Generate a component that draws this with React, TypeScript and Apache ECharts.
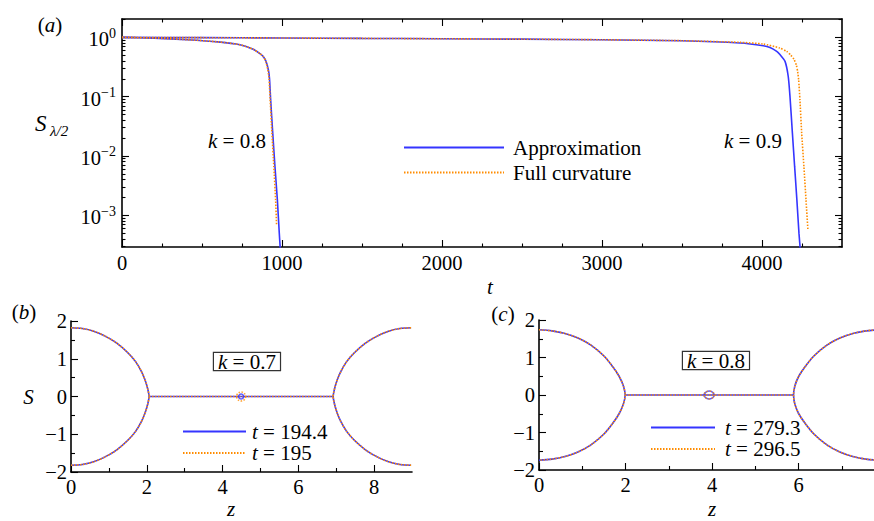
import React, { useEffect, useRef } from "react";
import * as echarts from "echarts";

const FONT = "Liberation Serif";
const BLUE = "#3535ff";
const ORANGE = "#ff8c00";
const INK = "#000";

// (a) S_{λ/2} against t, k = 0.8
const tK08Approx = [0, 200, 405, 600, 737, 820, 860, 885, 900, 915, 922, 929, 942, 956, 971, 983, 990];
const sK08Approx = [1, 0.973, 0.914, 0.841, 0.753, 0.631, 0.537, 0.468, 0.394, 0.282, 0.2, 0.0891, 0.0245, 0.0066, 0.00182, 0.0005, 0.00025];
const tK08Full = [0, 200, 405, 600, 737, 820, 860, 885, 898, 912, 919, 926, 937, 949, 960, 966];
const sK08Full = [1, 0.973, 0.914, 0.841, 0.753, 0.631, 0.537, 0.468, 0.394, 0.282, 0.2, 0.0891, 0.0245, 0.0066, 0.00182, 0.00069];

// (a) S_{λ/2} against t, k = 0.9
const tK09Approx = [0, 500, 1000, 1500, 2000, 2500, 3000, 3500, 3862, 4008, 4050, 4092, 4112, 4144, 4164, 4175, 4190, 4204, 4218, 4231, 4240];
const sK09Approx = [1, 0.989, 0.977, 0.962, 0.948, 0.933, 0.912, 0.877, 0.804, 0.724, 0.676, 0.581, 0.513, 0.394, 0.219, 0.1, 0.0243, 0.0066, 0.00182, 0.0005, 0.00025];
const tK09Full = [0, 500, 1000, 1500, 2000, 2500, 3000, 3500, 3862, 4008, 4112, 4154, 4180, 4200, 4215, 4223, 4229, 4237, 4248, 4262, 4275, 4287];
const sK09Full = [1, 0.989, 0.977, 0.962, 0.948, 0.933, 0.912, 0.879, 0.824, 0.773, 0.661, 0.581, 0.501, 0.427, 0.339, 0.263, 0.193, 0.0891, 0.0243, 0.0066, 0.00182, 0.00056];

// (b) k = 0.7: interface profile S(z), upper halves of the two lobes
const zLeftB = [0, 0.3, 0.6, 0.9, 1.2, 1.5, 1.7, 1.85, 1.95, 2.02, 2.06];
const sLeftB = [1.82, 1.8, 1.73, 1.6, 1.42, 1.16, 0.93, 0.68, 0.45, 0.22, 0];
const zRightB = [6.92, 6.96, 7.03, 7.13, 7.28, 7.48, 7.78, 8.08, 8.38, 8.68, 8.976];
const sRightB = [0, 0.22, 0.45, 0.68, 0.93, 1.16, 1.42, 1.6, 1.73, 1.8, 1.82];
const neckB = [2.06, 6.92];
const dropletB = 4.49;

// (c) k = 0.8
const zLeftC = [0, 0.3, 0.6, 0.9, 1.2, 1.5, 1.7, 1.85, 1.95, 1.99];
const sLeftC = [1.74, 1.71, 1.64, 1.52, 1.33, 1.04, 0.76, 0.5, 0.24, 0];
const zRightC = [5.88, 5.91, 6.0, 6.15, 6.35, 6.65, 6.95, 7.25, 7.55, 7.854];
const sRightC = [0, 0.24, 0.5, 0.76, 1.04, 1.33, 1.52, 1.64, 1.71, 1.74];
const neckC = [1.99, 5.88];
const dropletC = 3.93;

// tick positions
const tMajor = [0, 1000, 2000, 3000, 4000];
const tMinor = [250, 500, 750, 1250, 1500, 1750, 2250, 2500, 2750, 3250, 3500, 3750, 4250];
const decades = [-3, -2, -1, 0];
const zMajorB = [0, 2, 4, 6, 8];
const zMinorB = [1, 3, 5, 7];
const zMajorC = [0, 2, 4, 6];
const zMinorC = [1, 3, 5, 7];
const sMajor = [-2, -1, 0, 1, 2];
const sMinor = [-1.5, -0.5, 0.5, 1.5];

const LOG_MIN = -3.535;
const LOG_MAX = 0.31;

const logMinor: number[] = [];
for (let e = -4; e <= 0; e++) {
  for (let m = 2; m <= 9; m++) {
    const v = e + Math.log10(m);
    if (v > LOG_MIN && v < LOG_MAX) logMinor.push(v);
  }
}

const minus = (v: number) => (v < 0 ? "\u2212" + -v : String(v));

const FS = 21;
const baseText = { fontFamily: FONT, fontSize: FS, color: INK };
const tickText = { fontFamily: FONT, fontSize: 20.5, color: INK };

function axis(o: any) {
  return {
    type: "value",
    gridIndex: o.grid,
    position: o.position,
    min: o.min,
    max: o.max,
    axisLine: { show: !!o.line, onZero: false, lineStyle: { color: INK, width: 1.6 } },
    axisTick: {
      show: true,
      inside: true,
      length: o.len,
      customValues: o.ticks,
      lineStyle: { color: INK, width: 1.1 },
    },
    axisLabel: o.labels
      ? {
          show: true,
          customValues: o.labels,
          margin: o.margin ?? 6,
          formatter: o.formatter ?? ((v: number) => String(v)),
          rich: o.rich,
          padding: o.padding,
          ...tickText,
        }
      : { show: false },
    splitLine: { show: false },
    minorTick: { show: false },
  };
}

function pairs(xs: number[], ys: number[], f = (v: number) => v) {
  return xs.map((x, i) => [x, f(ys[i])]);
}

// full lobe: upper half, then its mirror image back to the start
function lobe(zs: number[], ss: number[]) {
  const up = pairs(zs, ss);
  const down = up.slice(0, -1).reverse().map(([z, s]) => [z, -s]);
  return up.concat(down);
}
function lobeRight(zs: number[], ss: number[]) {
  const up = pairs(zs, ss).reverse();
  const down = up.slice(0, -1).reverse().map(([z, s]) => [z, -s]);
  return up.concat(down);
}

function line(name: string, color: string, dotted: boolean, idx: number, data: number[][], smooth = 0) {
  return {
    type: "line",
    name,
    xAxisIndex: idx,
    yAxisIndex: idx,
    data,
    symbol: "none",
    showSymbol: false,
    smooth,
    clip: true,
    lineStyle: { color, width: 1.6, type: dotted ? [1.5, 1.5] : "solid" },
    itemStyle: { color },
    z: dotted ? 3 : 2,
  };
}

function droplet(name: string, color: string, dotted: boolean, idx: number, z: number, size: number | number[]) {
  return {
    type: "scatter",
    name,
    xAxisIndex: idx,
    yAxisIndex: idx,
    data: [[z, 0]],
    symbol: "circle",
    symbolSize: size,
    itemStyle: {
      color: "rgba(255,255,255,0)",
      borderColor: color,
      borderWidth: 1.6,
      borderType: dotted ? [1.5, 1.5] : "solid",
    },
    z: dotted ? 4 : 3,
  };
}

const italicRich = {
  i: { fontFamily: FONT, fontSize: FS, fontStyle: "italic", color: INK },
  r: { fontFamily: FONT, fontSize: FS, color: INK },
};

function label(x: number, y: number, text: string, align = "center", extra: any = {}) {
  return {
    type: "text",
    x,
    y,
    style: {
      text,
      rich: italicRich,
      textAlign: align,
      textVerticalAlign: "middle",
      ...baseText,
      fill: INK,
      ...extra,
    },
  };
}

function kBox(x: number, y: number, k: string) {
  return {
    type: "text",
    x,
    y,
    style: {
      text: `{i|k}{r| = ${k}}`,
      rich: {
        i: { ...italicRich.i, lineHeight: 16 },
        r: { ...italicRich.r, lineHeight: 16 },
      },
      textAlign: "left",
      textVerticalAlign: "top",
      backgroundColor: "#fff",
      borderColor: "#333",
      borderWidth: 1.2,
      padding: [1, 4, 0, 4],
    },
  };
}

function buildOption() {
  const yFmt = (v: number) => `{b|10}{s|${minus(Math.round(v))}}`;
  const yRich = {
    b: { fontFamily: FONT, fontSize: 20.5, lineHeight: 26, color: INK },
    s: { fontFamily: FONT, fontSize: 14, lineHeight: 14, verticalAlign: "top", color: INK },
  };

  const xAxis = [
    axis({ grid: 0, position: "bottom", min: 0, max: 4500, line: true, len: 7, ticks: tMajor, labels: tMajor, margin: 5 }),
    axis({ grid: 0, position: "bottom", min: 0, max: 4500, len: 3.5, ticks: tMinor }),
    axis({ grid: 0, position: "top", min: 0, max: 4500, line: true, len: 7, ticks: tMajor }),
    axis({ grid: 0, position: "top", min: 0, max: 4500, len: 3.5, ticks: tMinor }),
    axis({ grid: 1, position: "bottom", min: 0, max: 9, line: true, len: 7, ticks: zMajorB, labels: zMajorB, margin: 4 }),
    axis({ grid: 1, position: "bottom", min: 0, max: 9, len: 4, ticks: zMinorB }),
    axis({ grid: 2, position: "bottom", min: 0, max: 7.854, line: true, len: 7, ticks: zMajorC, labels: zMajorC, margin: 4 }),
    axis({ grid: 2, position: "bottom", min: 0, max: 7.854, len: 4, ticks: zMinorC }),
  ];
  const yAxis = [
    axis({ grid: 0, position: "left", min: LOG_MIN, max: LOG_MAX, line: true, len: 7, ticks: decades, labels: decades, formatter: yFmt, rich: yRich, margin: 6, padding: [4, 0, 0, 0] }),
    axis({ grid: 0, position: "left", min: LOG_MIN, max: LOG_MAX, len: 3.5, ticks: logMinor }),
    axis({ grid: 0, position: "right", min: LOG_MIN, max: LOG_MAX, line: true, len: 7, ticks: decades }),
    axis({ grid: 0, position: "right", min: LOG_MIN, max: LOG_MAX, len: 3.5, ticks: logMinor }),
    axis({ grid: 1, position: "left", min: -2, max: 2, line: true, len: 7, ticks: sMajor, labels: sMajor, formatter: minus, margin: 4 }),
    axis({ grid: 1, position: "left", min: -2, max: 2, len: 4, ticks: sMinor }),
    axis({ grid: 2, position: "left", min: -2, max: 2, line: true, len: 7, ticks: sMajor, labels: sMajor, formatter: minus, margin: 4 }),
    axis({ grid: 2, position: "left", min: -2, max: 2, len: 4, ticks: sMinor }),
  ];

  const lg = Math.log10;
  const series: any[] = [
    line("Approximation", BLUE, false, 0, pairs(tK08Approx, sK08Approx, lg), 0.2),
    line("Approximation", BLUE, false, 0, pairs(tK09Approx, sK09Approx, lg), 0.2),
    line("Full curvature", ORANGE, true, 0, pairs(tK08Full, sK08Full, lg), 0.2),
    line("Full curvature", ORANGE, true, 0, pairs(tK09Full, sK09Full, lg), 0.2),
  ];

  const panel = (idx: number, names: string[], zl: number[], sl: number[], zr: number[], sr: number[], neck: number[], drop: number, dropSizes: any[]) => {
    [0, 1].forEach((j) => {
      const color = j === 0 ? BLUE : ORANGE;
      const dotted = j === 1;
      series.push(line(names[j], color, dotted, idx, lobe(zl, sl), 0.3));
      series.push(line(names[j], color, dotted, idx, [[neck[0], 0], [neck[1], 0]]));
      series.push(line(names[j], color, dotted, idx, lobeRight(zr, sr), 0.3));
      series.push(droplet(names[j], color, dotted, idx, drop, dropSizes[j]));
    });
  };
  panel(4, ["t = 194.4", "t = 195"], zLeftB, sLeftB, zRightB, sRightB, neckB, dropletB, [5, 9]);
  panel(6, ["t = 279.3", "t = 296.5"], zLeftC, sLeftC, zRightC, sRightC, neckC, dropletC, [[10, 8], [10, 8]]);

  const tFmt = (name: string) => `{i|t}{r|${name.slice(1)}}`;
  const legendRich = { i: { ...italicRich.i, lineHeight: 18 }, r: { ...italicRich.r, lineHeight: 18 } };

  return {
    animation: false,
    backgroundColor: "#fff",
    grid: [
      { left: 122, top: 19, width: 720, height: 228, outerBoundsMode: "none" },
      { left: 71, top: 321, width: 341, height: 151, outerBoundsMode: "none" },
      { left: 539, top: 320, width: 340, height: 150, outerBoundsMode: "none" },
    ],
    xAxis,
    yAxis,
    legend: [
      {
        left: 403,
        top: 137,
        padding: 0,
        orient: "vertical",
        selectedMode: false,
        itemWidth: 100,
        itemHeight: 14,
        itemGap: 4,
        itemStyle: { opacity: 0 },
        data: ["Approximation", "Full curvature"],
        textStyle: { ...baseText, lineHeight: 20, padding: [0, 0, 0, 4] },
      },
      {
        left: 182,
        top: 421,
        padding: 0,
        orient: "vertical",
        selectedMode: false,
        itemWidth: 63,
        itemHeight: 14,
        itemGap: 0.6,
        itemStyle: { opacity: 0 },
        data: ["t = 194.4", "t = 195"],
        formatter: tFmt,
        textStyle: { ...baseText, lineHeight: 18, padding: [0, 0, 0, 1], rich: legendRich },
      },
      {
        left: 650,
        top: 417,
        padding: 0,
        orient: "vertical",
        selectedMode: false,
        itemWidth: 64,
        itemHeight: 14,
        itemGap: 0.6,
        itemStyle: { opacity: 0 },
        data: ["t = 279.3", "t = 296.5"],
        formatter: tFmt,
        textStyle: { ...baseText, lineHeight: 18, padding: [0, 0, 0, 5], rich: legendRich },
      },
    ],
    graphic: [
      label(50, 25, "{r|(}{i|a}{r|)}"),
      label(35, 123, "S", "left", { fontStyle: "italic", fontSize: 23 }),
      label(50, 131, "λ/2", "left", { fontStyle: "italic", fontSize: 15 }),
      label(490, 287, "t", "center", { fontStyle: "italic" }),
      label(208, 141, "{i|k}{r| = 0.8}", "left"),
      label(724, 141, "{i|k}{r| = 0.9}", "left"),
      label(24, 312, "{r|(}{i|b}{r|)}"),
      label(28.5, 397, "S", "center", { fontStyle: "italic" }),
      label(231, 509, "z", "center", { fontStyle: "italic" }),
      kBox(214, 353, "0.7"),
      label(503, 314, "{r|(}{i|c}{r|)}"),
      label(712, 509, "z", "center", { fontStyle: "italic" }),
      kBox(683, 352, "0.8"),
    ],
    series,
  };
}

export default function App() {
  const ref = useRef<HTMLDivElement>(null);
  useEffect(() => {
    if (!ref.current) return;
    const chart = echarts.init(ref.current, undefined, { renderer: "svg" });
    chart.setOption(buildOption() as any);
    return () => chart.dispose();
  }, []);
  return (
    <div
      ref={ref}
      style={{ position: "fixed", left: 0, top: 0, width: 874, height: 521, background: "#fff" }}
    />
  );
}
